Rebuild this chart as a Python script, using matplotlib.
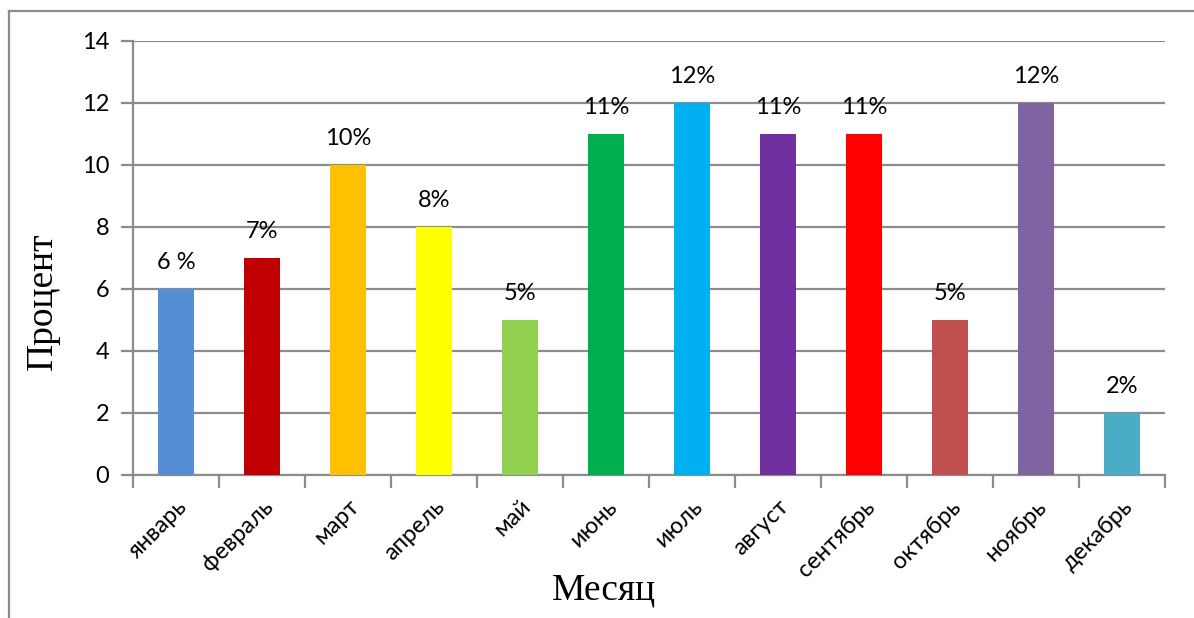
import matplotlib.pyplot as plt
from matplotlib.lines import Line2D

months = ['январь', 'февраль', 'март', 'апрель', 'май', 'июнь',
          'июль', 'август', 'сентябрь', 'октябрь', 'ноябрь', 'декабрь']
percent = [6, 7, 10, 8, 5, 11, 12, 11, 11, 5, 12, 2]
labels = ['6 %', '7%', '10%', '8%', '5%', '11%', '12%', '11%', '11%', '5%', '12%', '2%']
colors = ['#558ED5', '#C00000', '#FFC000', '#FFFF00', '#92D050', '#00B050',
          '#00B0F0', '#7030A0', '#FF0000', '#C0504D', '#8064A2', '#4BACC6']

grey = '#8C8C8C'
tick_font = 'Lato'
W, H = 1194, 618

fig = plt.figure(figsize=(11.94, 6.18), dpi=100)
ax = fig.add_axes([0.1114, 0.2314, 0.8643, 0.7023])

x = list(range(len(months)))
bars = ax.bar(x, percent, width=0.41, color=colors, zorder=3)

for xi, v, t in zip(x, percent, labels):
    ax.text(xi, v + 0.5, t, ha='center', va='bottom', fontsize=17,
            family=tick_font, color='black')

ax.set_xlim(-0.5, len(months) - 0.5)
ax.set_ylim(0, 14)
ax.set_yticks(range(0, 15, 2))
ax.yaxis.grid(True, color=grey, linewidth=1.6, zorder=0)
ax.set_axisbelow(True)

# ticks between categories on x axis
ax.set_xticks([i - 0.5 for i in range(len(months) + 1)], minor=False)
ax.set_xticklabels([])
ax.set_xticks(x, minor=True)
ax.set_xticklabels(months, minor=True, rotation=45, ha='right',
                   rotation_mode='anchor', fontsize=17, family=tick_font)
ax.tick_params(axis='x', which='major', length=9, width=1.6, color=grey)
ax.tick_params(axis='x', which='minor', length=0, pad=15)
ax.tick_params(axis='y', length=9, width=1.6, color=grey, labelsize=17, pad=8)
for lab in ax.get_yticklabels():
    lab.set_family(tick_font)

for s in ['top', 'right']:
    ax.spines[s].set_visible(False)
for s in ['left', 'bottom']:
    ax.spines[s].set_color(grey)
    ax.spines[s].set_linewidth(1.6)

# axis titles
fig.text(43 / W, 1 - 301 / H, 'Процент', rotation=90, ha='center', va='center',
         family='Liberation Serif', fontsize=27)
fig.text(604 / W, 1 - 590 / H, 'Месяц', ha='center', va='center',
         family='Liberation Serif', fontsize=27)

# outer chart frame
fig.add_artist(Line2D([9 / W, 9 / W], [0, 1 - 11 / H],
                      color=grey, linewidth=1.6, transform=fig.transFigure))
fig.add_artist(Line2D([9 / W, 1], [1 - 11 / H, 1 - 11 / H],
                      color=grey, linewidth=1.6, transform=fig.transFigure))

fig.savefig('out.png', dpi=100)
